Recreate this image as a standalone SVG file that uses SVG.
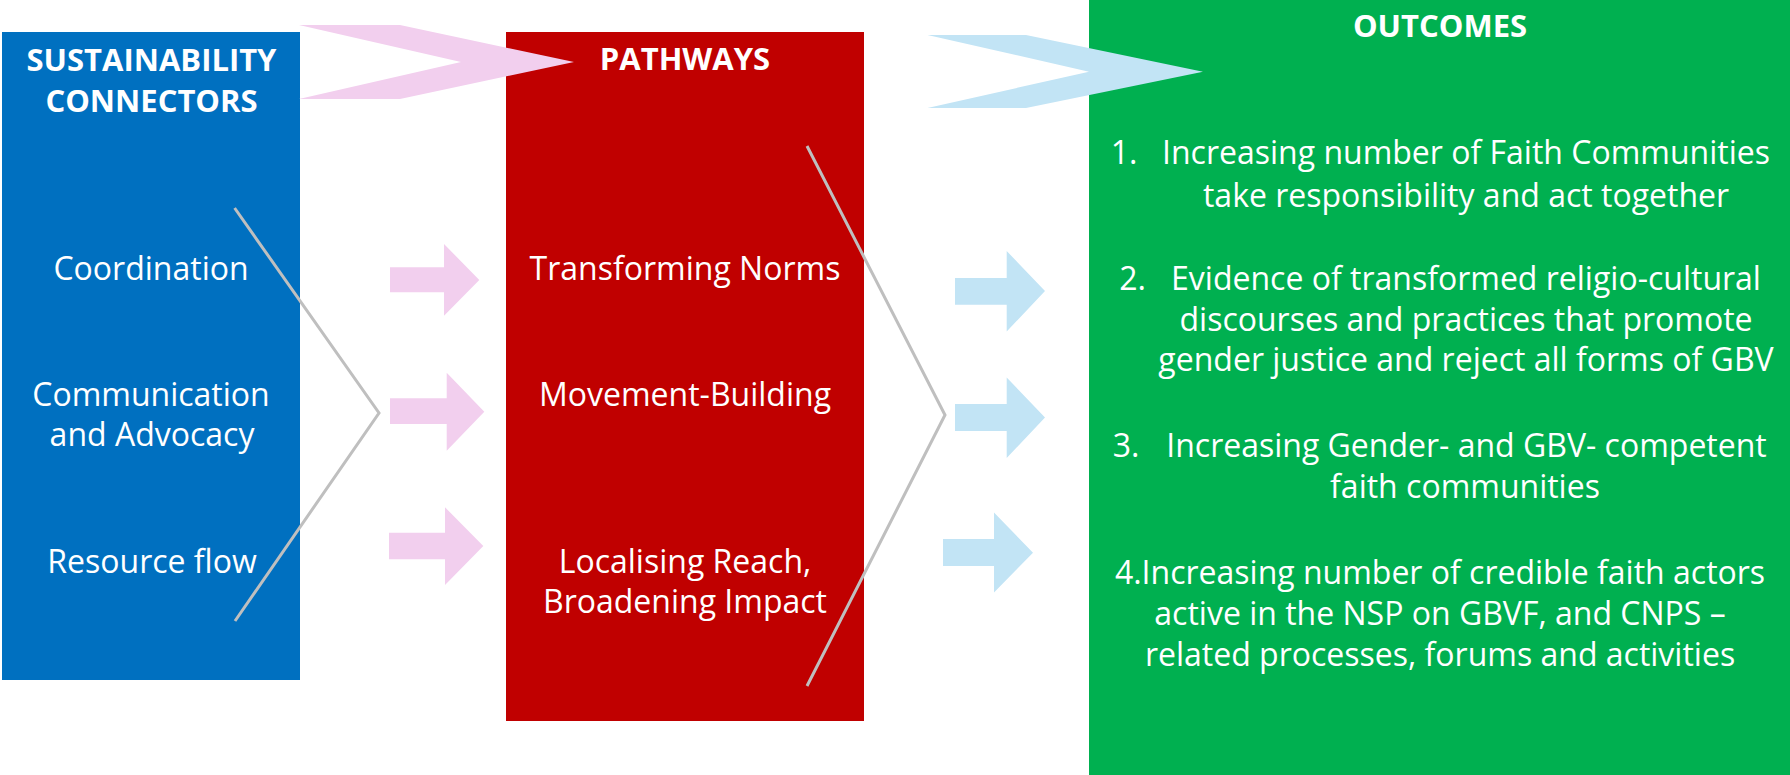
<svg xmlns="http://www.w3.org/2000/svg" width="1790" height="775" viewBox="0 0 1790 775">
<style>
.t{font-family:"Open Sans","Liberation Sans",sans-serif;font-size:32px;fill:#ffffff;text-anchor:middle}
.h{font-family:"Open Sans","Liberation Sans",sans-serif;font-size:31px;font-weight:bold;fill:#ffffff;text-anchor:middle}
.n{text-anchor:start}
.pink{fill:#F2CFEE}
.lblue{fill:#C2E4F5}
.gl{fill:none;stroke:#BFBFBF;stroke-width:3;stroke-linejoin:miter}
</style>
<rect width="1790" height="775" fill="#ffffff"/>
<g id="connectors-box">
<g id="sustainability-connectors">
<rect x="2" y="32" width="298" height="648" fill="#0070C0"/>
<text class="h" x="151.5" y="70.5">SUSTAINABILITY</text>
<text class="h" x="151.5" y="111.5">CONNECTORS</text>
<text class="t" x="151" y="279.5">Coordination</text>
<text class="t" x="151" y="405.5">Communication</text>
<text class="t" x="152" y="445.5">and Advocacy</text>
<text class="t" x="152" y="573">Resource flow</text>
</g>
</g>
<g id="pathways">
<rect x="506" y="32" width="358" height="689" fill="#C00000"/>
<text class="h" x="685" y="70">PATHWAYS</text>
<text class="t" x="685" y="280">Transforming Norms</text>
<text class="t" x="685" y="405.5">Movement-Building</text>
<text class="t" x="685" y="573">Localising Reach,</text>
<text class="t" x="685" y="613">Broadening Impact</text>
</g>
<g id="outcomes">
<rect x="1089" y="0" width="701" height="775" fill="#00B050"/>
<text class="h" x="1440" y="36.7">OUTCOMES</text>
<text class="t n" x="1110.7" y="164">1.</text>
<text class="t" x="1466" y="164">Increasing number of Faith Communities</text>
<text class="t" x="1466" y="207">take responsibility and act together</text>
<text class="t n" x="1119.3" y="289.5">2.</text>
<text class="t" x="1466" y="289.5">Evidence of transformed religio-cultural</text>
<text class="t" x="1466" y="331">discourses and practices that promote</text>
<text class="t" x="1466" y="371">gender justice and reject all forms of GBV</text>
<text class="t n" x="1112.7" y="457">3.</text>
<text class="t" x="1466.5" y="457">Increasing Gender- and GBV- competent</text>
<text class="t" x="1465" y="498.3">faith communities</text>
<text class="t" x="1440" y="584">4.Increasing number of credible faith actors</text>
<text class="t" x="1440" y="624.5">active in the NSP on GBVF, and CNPS –</text>
<text class="t" x="1440" y="666">related processes, forums and activities</text>
</g>
<g id="connectors">
<polygon class="pink" points="299,25 400,25 574,62 400,99 299,99 461,62"/>
<polygon class="lblue" points="927.5,35 1026,35 1203,71.7 1026,108 927.5,108 1089,71.7"/>
<polygon class="pink" points="390,267.3 444,267.3 444,244 479.3,280 444,315.7 444,292.3 390,292.3"/>
<polygon class="pink" points="390,398.3 446.7,398.3 446.7,372.7 484.3,411.7 446.7,450.7 446.7,424 390,424"/>
<polygon class="pink" points="389,532.7 445,532.7 445,507.3 483.3,546 445,585 445,559.3 389,559.3"/>
<polygon class="lblue" points="955,278 1006.7,278 1006.7,251 1045,291 1006.7,331.5 1006.7,304.7 955,304.7"/>
<polygon class="lblue" points="955,404 1006.7,404 1006.7,377.5 1045,417.6 1006.7,458 1006.7,431 955,431"/>
<polygon class="lblue" points="943,539 994,539 994,512.5 1033,552.7 994,592.5 994,566 943,566"/>
<polyline class="gl" points="234.6,208 379,413 235,621"/>
<polyline class="gl" points="807,146 945,415 807,686"/>
</g>
</svg>
